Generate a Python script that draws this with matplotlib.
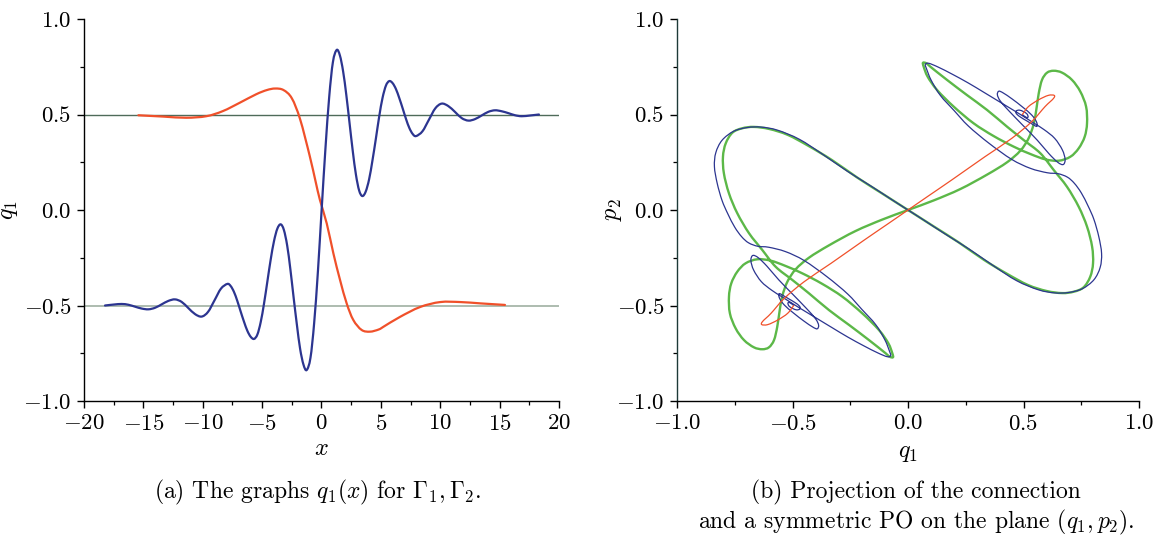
import matplotlib
matplotlib.use("Agg")
import matplotlib.pyplot as plt
from matplotlib.path import Path
from matplotlib.patches import PathPatch
from matplotlib.ticker import MultipleLocator, FuncFormatter

plt.rcParams['font.family'] = 'cmr10'
plt.rcParams['mathtext.fontset'] = 'cm'
plt.rcParams['axes.formatter.use_mathtext'] = True

# ---------------- panel (a): q1(x) ----------------
blue_x = [-18.23, -17.5, -16.83, -16.27, -15.71, -15.14, -14.58, -14.02, -13.46, -12.90,
          -12.34, -11.78, -11.22, -10.65, -10.09, -9.55, -9.01, -8.47, -7.93, -7.65,
          -7.37, -7.09, -6.81, -6.52, -6.24, -5.96, -5.68, -5.40, -5.12, -4.84,
          -4.56, -4.28, -4.00, -3.72, -3.44, -3.17, -2.89, -2.62, -2.35, -2.07,
          -1.80, -1.52, -1.25, -0.93, -0.62, -0.30, 0.01, 0.33, 0.65, 0.96,
          1.28, 1.55, 1.82, 2.09, 2.36, 2.63, 2.90, 3.17, 3.44, 3.72,
          4.01, 4.29, 4.58, 4.86, 5.14, 5.43, 5.71, 5.99, 6.27, 6.55,
          6.84, 7.12, 7.40, 7.68, 7.96, 8.50, 9.04, 9.58, 10.12, 10.68,
          11.25, 11.81, 12.37, 12.93, 13.49, 14.05, 14.61, 15.17, 15.74, 16.30,
          16.86, 17.6, 18.31]
blue_y = [-0.500, -0.495, -0.492, -0.496, -0.506, -0.516, -0.520, -0.512, -0.494, -0.476,
          -0.468, -0.481, -0.513, -0.545, -0.558, -0.533, -0.473, -0.412, -0.387, -0.398,
          -0.429, -0.476, -0.531, -0.586, -0.633, -0.664, -0.675, -0.652, -0.587, -0.490,
          -0.375, -0.260, -0.163, -0.098, -0.075, -0.104, -0.186, -0.311, -0.457, -0.602,
          -0.727, -0.809, -0.838, -0.774, -0.593, -0.320, 0.0, 0.320, 0.593, 0.774,
          0.838, 0.809, 0.726, 0.602, 0.456, 0.310, 0.185, 0.102, 0.073, 0.096,
          0.161, 0.259, 0.374, 0.490, 0.587, 0.652, 0.675, 0.664, 0.633, 0.586,
          0.531, 0.476, 0.429, 0.398, 0.387, 0.412, 0.472, 0.532, 0.557, 0.544,
          0.513, 0.481, 0.468, 0.476, 0.495, 0.514, 0.522, 0.517, 0.507, 0.496,
          0.491, 0.495, 0.500]

red_x = [-15.42, -13.3, -11.4, -9.7, -8.3, -6.9, -5.5, -4.6, -3.9, -3.2, -2.5, -1.8,
         -1.0, -0.5, -0.13, 0.44, 1.0, 1.56, 2.12, 2.68, 3.38, 4.08, 4.8, 5.2, 6.6,
         8.3, 10.0, 11.7, 13.4, 15.45]
red_y = [0.496, 0.489, 0.483, 0.491, 0.518, 0.561, 0.606, 0.628, 0.636, 0.628, 0.585, 0.475,
         0.285, 0.150, 0.052, -0.070, -0.227, -0.366, -0.489, -0.576, -0.628, -0.637, -0.626, -0.612, -0.560,
         -0.508, -0.482, -0.482, -0.489, -0.497]

levels = [0.5, -0.5]

# ---------------- panel (b): (q1, p2) projection ----------------
blue_q = [-0.495, -0.505, -0.515, -0.520, -0.515, -0.500, -0.482, -0.468, -0.470, -0.490,
          -0.515, -0.540, -0.558, -0.556, -0.535, -0.495, -0.450, -0.412, -0.393, -0.387,
          -0.400, -0.440, -0.500, -0.560, -0.610, -0.648, -0.672, -0.680, -0.668, -0.635,
          -0.590, -0.545, -0.480, -0.405, -0.330, -0.261, -0.190, -0.131, -0.090, -0.075,
          -0.080, -0.100, -0.140, -0.200, -0.261, -0.350, -0.449, -0.530, -0.603, -0.650,
          -0.690, -0.720, -0.750, -0.780, -0.805, -0.826, -0.838, -0.832, -0.805, -0.755,
          -0.695, -0.635, -0.565, -0.470, -0.370, -0.265, -0.160, -0.075, 0.000,
          0.075, 0.160, 0.265, 0.370, 0.470, 0.565, 0.635, 0.695, 0.755, 0.805,
          0.832, 0.838, 0.826, 0.805, 0.780, 0.750, 0.720, 0.690, 0.650, 0.603,
          0.530, 0.449, 0.350, 0.261, 0.200, 0.140, 0.100, 0.080, 0.075, 0.090,
          0.131, 0.190, 0.261, 0.330, 0.405, 0.480, 0.545, 0.590, 0.635, 0.668,
          0.680, 0.672, 0.648, 0.610, 0.560, 0.500, 0.440, 0.400, 0.387, 0.393,
          0.412, 0.450, 0.495, 0.535, 0.556, 0.558, 0.540, 0.515, 0.490, 0.470,
          0.468, 0.482, 0.500, 0.515, 0.520, 0.515, 0.505, 0.495]
blue_p = [-0.500, -0.490, -0.484, -0.488, -0.503, -0.515, -0.523, -0.518, -0.503, -0.484,
          -0.466, -0.448, -0.438, -0.462, -0.498, -0.540, -0.582, -0.613, -0.622, -0.603,
          -0.570, -0.515, -0.440, -0.365, -0.295, -0.250, -0.238, -0.265, -0.315, -0.375,
          -0.420, -0.455, -0.505, -0.560, -0.615, -0.665, -0.712, -0.748, -0.768, -0.762,
          -0.740, -0.680, -0.600, -0.520, -0.440, -0.350, -0.265, -0.218, -0.195, -0.190,
          -0.172, -0.140, -0.090, -0.020, 0.050, 0.140, 0.227, 0.300, 0.365, 0.412,
          0.432, 0.434, 0.418, 0.370, 0.292, 0.205, 0.125, 0.058, 0.000,
          -0.058, -0.125, -0.205, -0.292, -0.370, -0.418, -0.434, -0.432, -0.412, -0.365,
          -0.300, -0.227, -0.140, -0.050, 0.020, 0.090, 0.140, 0.172, 0.190, 0.195,
          0.218, 0.265, 0.350, 0.440, 0.520, 0.600, 0.680, 0.740, 0.762, 0.768,
          0.748, 0.712, 0.665, 0.615, 0.560, 0.505, 0.455, 0.420, 0.375, 0.315,
          0.265, 0.238, 0.250, 0.295, 0.365, 0.440, 0.515, 0.570, 0.603, 0.622,
          0.613, 0.582, 0.540, 0.498, 0.462, 0.438, 0.448, 0.466, 0.484, 0.503,
          0.518, 0.523, 0.515, 0.503, 0.488, 0.484, 0.490, 0.500]

green_q = [0.000, 0.111, 0.227, 0.342, 0.429, 0.486, 0.522, 0.544, 0.556, 0.566,
           0.580, 0.602, 0.631, 0.667, 0.710, 0.746, 0.771, 0.775, 0.765, 0.739,
           0.703, 0.652, 0.595, 0.530, 0.457, 0.371, 0.284, 0.198, 0.126, 0.085,
           0.068, 0.065, 0.080, 0.097, 0.169, 0.255, 0.342, 0.429, 0.501, 0.573,
           0.631, 0.688, 0.739, 0.775, 0.797, 0.801, 0.789, 0.760, 0.717, 0.667,
           0.600, 0.520, 0.430, 0.330, 0.220, 0.110, 0.000,
           -0.110, -0.220, -0.330, -0.430, -0.520, -0.600, -0.667, -0.717, -0.760, -0.789,
           -0.801, -0.797, -0.775, -0.739, -0.688, -0.631, -0.573, -0.501, -0.429, -0.342,
           -0.255, -0.169, -0.097, -0.080, -0.065, -0.068, -0.085, -0.126, -0.198, -0.284,
           -0.371, -0.457, -0.530, -0.595, -0.652, -0.703, -0.739, -0.765, -0.775, -0.771,
           -0.746, -0.710, -0.667, -0.631, -0.602, -0.580, -0.566, -0.556, -0.544, -0.522,
           -0.486, -0.429, -0.342, -0.227, -0.111, 0.000]
green_p = [0.000, 0.050, 0.110, 0.185, 0.250, 0.310, 0.375, 0.450, 0.530, 0.611,
           0.681, 0.719, 0.729, 0.719, 0.681, 0.620, 0.541, 0.454, 0.384, 0.323,
           0.279, 0.258, 0.265, 0.293, 0.332, 0.387, 0.454, 0.541, 0.628, 0.698,
           0.750, 0.771, 0.768, 0.750, 0.681, 0.602, 0.524, 0.436, 0.366, 0.297,
           0.209, 0.122, 0.017, -0.087, -0.192, -0.279, -0.349, -0.405, -0.428, -0.435,
           -0.424, -0.393, -0.335, -0.262, -0.170, -0.085, 0.000,
           0.085, 0.170, 0.262, 0.335, 0.393, 0.424, 0.435, 0.428, 0.405, 0.349,
           0.279, 0.192, 0.087, -0.017, -0.122, -0.209, -0.297, -0.366, -0.436, -0.524,
           -0.602, -0.681, -0.750, -0.768, -0.771, -0.750, -0.698, -0.628, -0.541, -0.454,
           -0.387, -0.332, -0.293, -0.265, -0.258, -0.279, -0.323, -0.384, -0.454, -0.541,
           -0.620, -0.681, -0.719, -0.729, -0.719, -0.681, -0.611, -0.530, -0.450, -0.375,
           -0.310, -0.250, -0.185, -0.110, -0.050, 0.000]

red_q = [-0.495, -0.521, -0.564, -0.607, -0.633, -0.629, -0.593, -0.535, -0.449, -0.333,
         -0.189, -0.090, 0.000, 0.090, 0.189, 0.333, 0.449, 0.535, 0.593, 0.629,
         0.633, 0.607, 0.564, 0.521, 0.495]
red_p = [-0.500, -0.541, -0.576, -0.600, -0.600, -0.583, -0.541, -0.462, -0.375, -0.279,
         -0.157, -0.075, 0.000, 0.075, 0.157, 0.279, 0.375, 0.462, 0.541, 0.583,
         0.600, 0.600, 0.576, 0.541, 0.500]

BLUE = '#2c3590'
RED = '#f0502a'
GREEN = '#5cb848'
TFS = 16.5   # tick labels
LFS = 17.5   # axis labels
CFS = 17     # captions


def smooth_curve(ax, xs, ys, closed=False, **kw):
    """Draw a smooth curve through the given points (Catmull-Rom as Bezier segments)."""
    pts = list(zip(xs, ys))
    n = len(pts)
    verts = [pts[0]]
    codes = [Path.MOVETO]
    for i in range(n - 1):
        if i > 0:
            p0 = pts[i - 1]
        else:
            p0 = pts[-2] if closed else pts[0]
        p1 = pts[i]
        p2 = pts[i + 1]
        if i + 2 < n:
            p3 = pts[i + 2]
        else:
            p3 = pts[1] if closed else pts[-1]
        c1 = (p1[0] + (p2[0] - p0[0]) / 6.0, p1[1] + (p2[1] - p0[1]) / 6.0)
        c2 = (p2[0] - (p3[0] - p1[0]) / 6.0, p2[1] - (p3[1] - p1[1]) / 6.0)
        verts += [c1, c2, p2]
        codes += [Path.CURVE4] * 3
    patch = PathPatch(Path(verts, codes), fill=False, capstyle='round',
                      joinstyle='round', **kw)
    ax.add_patch(patch)
    return patch


fig = plt.figure(figsize=(11.76, 5.42), dpi=100)
axA = fig.add_axes([84/1176, 1-401/542, 475/1176, 382/542])
axB = fig.add_axes([677/1176, 1-401/542, 462/1176, 382/542])


def style(ax):
    for s in ('top', 'right'):
        ax.spines[s].set_visible(False)
    for s in ('left', 'bottom'):
        ax.spines[s].set_linewidth(1.0)
    ax.tick_params(which='major', direction='out', length=5, width=1.0, labelsize=TFS, pad=4)
    ax.tick_params(which='minor', direction='out', length=3, width=0.9)


# panel (a)
axA.axhline(levels[0], color='#4f6b5a', lw=1.0, zorder=1)
axA.axhline(levels[1], color='#9fb0a2', lw=1.2, zorder=1)
smooth_curve(axA, red_x, red_y, edgecolor=RED, lw=1.6, zorder=2)
smooth_curve(axA, blue_x, blue_y, edgecolor=BLUE, lw=1.6, zorder=3)
axA.set_xlim(-20, 20)
axA.set_ylim(-1, 1)
axA.xaxis.set_major_locator(MultipleLocator(5))
axA.xaxis.set_minor_locator(MultipleLocator(2.5))
axA.yaxis.set_major_locator(MultipleLocator(0.5))
axA.yaxis.set_minor_locator(MultipleLocator(0.25))
axA.xaxis.set_major_formatter(FuncFormatter(lambda v, p: '$%d$' % round(v)))
axA.yaxis.set_major_formatter(FuncFormatter(lambda v, p: '$%.1f$' % v))
style(axA)
axA.set_xlabel('$x$', fontsize=LFS, labelpad=3)
axA.set_ylabel('$q_1$', fontsize=LFS)
axA.yaxis.set_label_coords(-0.135, 0.5)

# panel (b)
smooth_curve(axB, green_q, green_p, closed=True, edgecolor=GREEN, lw=1.7, zorder=2)
smooth_curve(axB, blue_q, blue_p, edgecolor=BLUE, lw=0.9, zorder=3)
smooth_curve(axB, red_q, red_p, edgecolor=RED, lw=0.9, zorder=4)
axB.set_xlim(-1, 1)
axB.set_ylim(-1, 1)
for axis in (axB.xaxis, axB.yaxis):
    axis.set_major_locator(MultipleLocator(0.5))
    axis.set_minor_locator(MultipleLocator(0.25))
    axis.set_major_formatter(FuncFormatter(lambda v, p: '$%.1f$' % v))
style(axB)
axB.spines['left'].set_color('#1d3a38')
axB.set_xlabel('$q_1$', fontsize=LFS, labelpad=6)
axB.set_ylabel('$p_2$', fontsize=LFS)
axB.yaxis.set_label_coords(-0.115, 0.5)

fig.text(318/1176, 1-492/542, r'(a) The graphs $q_1(x)$ for $\Gamma_1, \Gamma_2$.',
         ha='center', va='center', fontsize=CFS)
fig.text(916/1176, 1-492/542, '(b) Projection of the connection',
         ha='center', va='center', fontsize=CFS)
fig.text(916/1176, 1-522/542, r'and a symmetric PO on the plane $(q_1, p_2)$.',
         ha='center', va='center', fontsize=CFS)

fig.savefig('out.png', dpi=100)
